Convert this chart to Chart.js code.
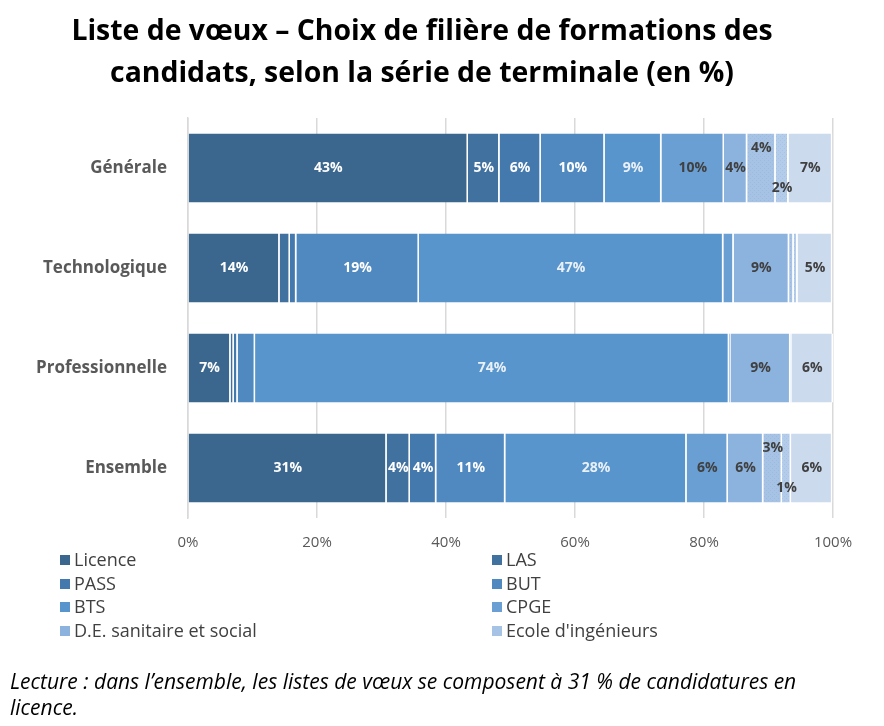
<!DOCTYPE html>
<html lang="fr">
<head>
<meta charset="utf-8">
<script src="https://cdn.jsdelivr.net/npm/chart.js@4.4.1/dist/chart.umd.min.js"></script>
<style>
  html, body { margin: 0; padding: 0; background: #fff; }
  body { width: 884px; height: 726px; position: relative; overflow: hidden; font-family: "Open Sans", sans-serif; }
  #title { position: absolute; left: 0; width: 844px; top: 8px; text-align: center; font-weight: bold; font-size: 28.4px; line-height: 42px; color: #000; }
  #wrap { position: absolute; left: 0; top: 0; width: 884px; height: 726px; }
  #legend { position: absolute; left: 60px; top: 548px; width: 800px; color: #404040; font-size: 18px; }
  .item { position: absolute; white-space: nowrap; line-height: 22px; }
  .item span { display: inline-block; width: 10px; height: 10px; margin-right: 4px; vertical-align: 1px; }
  #note { position: absolute; left: 10px; top: 668px; width: 860px; font-style: italic; font-size: 21px; line-height: 26px; color: #000; }
</style>
</head>
<body>
<div id="wrap"><canvas id="chart"></canvas></div>
<div id="title">Liste de vœux – Choix de filière de formations des<br>candidats, selon la série de terminale (en %)</div>
<div id="legend"></div>
<div id="note">Lecture : dans l’ensemble, les listes de vœux se composent à 31 % de candidatures en<br>licence.</div>
<script>
const series = ['Générale', 'Technologique', 'Professionnelle', 'Ensemble']
const formations = ['Licence', 'LAS', 'PASS', 'BUT', 'BTS', 'CPGE', 'D.E. sanitaire et social', "Ecole d'ingénieurs", 'Ecole de commerce', 'Autres formations']
const tickLabels = ['0%', '20%', '40%', '60%', '80%', '100%']

// parts in % per formation, in the order of series
const licence = [43.4, 14.2, 6.6, 30.8]
const las = [4.9, 1.6, 0.5, 3.6]
const pass = [6.4, 1.0, 0.6, 4.1]
const but = [9.9, 19.0, 2.7, 10.7]
const bts = [8.8, 47.2, 73.5, 28.1]
const cpge = [9.7, 1.6, 0.2, 6.4]
const deSanitaire = [3.6, 8.6, 9.3, 5.5]
const ecoleIngenieurs = [4.4, 0.7, 0.1, 2.9]
const ecoleCommerce = [2.0, 0.6, 0.1, 1.4]
const autres = [6.8, 5.4, 6.4, 6.4]

const values = [licence, las, pass, but, bts, cpge, deSanitaire, ecoleIngenieurs, ecoleCommerce, autres]
const colors = ['#3b678f', '#40719f', '#4479ad', '#4f89bf', '#5795cc', '#6a9fd4', '#8cb2de', '#a6c3e5', '#b3cce9', '#ccdaee']
const labelColors = ['#fff', '#fff', '#fff', '#fff', '#eaf0f7', '#404040', '#404040', '#404040', '#404040', '#404040']
const dotted = [7, 8]
const legendCount = 8

// light dotted fill, like the two "Ecole" segments of the report
function dots(base) {
	const c = document.createElement('canvas')
	c.width = 4
	c.height = 4
	const g = c.getContext('2d')
	g.fillStyle = base
	g.fillRect(0, 0, 4, 4)
	g.fillStyle = 'rgba(60,100,150,0.09)'
	g.fillRect(0, 0, 1, 1)
	g.fillRect(2, 2, 1, 1)
	return g.createPattern(c, 'repeat')
}

/**
 * Draws the rounded percentage on each segment
 */
const segmentLabels = {
	id: 'segmentLabels',
	afterDatasetsDraw(chart) {
		const { ctx } = chart
		ctx.save()
		ctx.font = 'bold 14px "Open Sans", sans-serif'
		ctx.textAlign = 'center'
		ctx.textBaseline = 'middle'
		chart.data.datasets.forEach((dataset, d) => {
			const meta = chart.getDatasetMeta(d)
			meta.data.forEach((bar, i) => {
				const value = dataset.data[i]
				const small = dotted.includes(d)
				if (value < (small ? 1 : 3)) return
				let y = bar.y
				if (small) y += d === 7 ? -20 : 20
				ctx.fillStyle = labelColors[d]
				ctx.fillText(Math.round(value) + '%', (bar.x + bar.base) / 2, y)
			})
		})
		ctx.restore()
	}
}

const chart = new Chart(document.getElementById('chart'), {
	type: 'bar',
	data: {
		labels: series,
		datasets: formations.map((name, d) => ({
			label: name,
			data: values[d],
			backgroundColor: dotted.includes(d) ? dots(colors[d]) : colors[d],
			borderColor: '#ffffff',
			borderWidth: { right: 1.5, left: 0, top: 0, bottom: 0 },
			borderSkipped: false,
			barPercentage: 0.69,
			categoryPercentage: 1
		}))
	},
	options: {
		indexAxis: 'y',
		responsive: true,
		maintainAspectRatio: false,
		animation: false,
		layout: { padding: { top: 118, right: 51, left: 0, bottom: 0 } },
		plugins: {
			legend: { display: false },
			tooltip: { enabled: false }
		},
		scales: {
			x: {
				stacked: true,
				min: 0,
				max: 100,
				afterFit(scale) { scale.height = 208 },
				border: { display: false },
				grid: { color: '#d9d9d9', lineWidth: 1.5, drawTicks: false },
				ticks: {
					stepSize: 20,
					padding: 16,
					color: '#595959',
					font: { family: '"Open Sans", sans-serif', size: 15 },
					callback: (v) => tickLabels[v / 20]
				}
			},
			y: {
				stacked: true,
				afterFit(scale) { scale.width = 188 },
				border: { display: true, color: '#d9d9d9', width: 1.5 },
				grid: { display: false, drawTicks: false },
				ticks: {
					padding: 21,
					color: '#595959',
					font: { family: '"Open Sans", sans-serif', size: 17, weight: 'bold' }
				}
			}
		}
	},
	plugins: [segmentLabels]
})

// legend in two columns, first entries only as in the report
const legend = document.getElementById('legend')
formations.slice(0, legendCount).forEach((name, d) => {
	const item = document.createElement('div')
	item.className = 'item'
	item.style.left = (d % 2 ? 432 : 0) + 'px'
	item.style.top = Math.floor(d / 2) * 23.7 + 'px'
	item.innerHTML = `<span style="background:${colors[d]}"></span>${name}`
	legend.appendChild(item)
})
</script>
</body>
</html>
